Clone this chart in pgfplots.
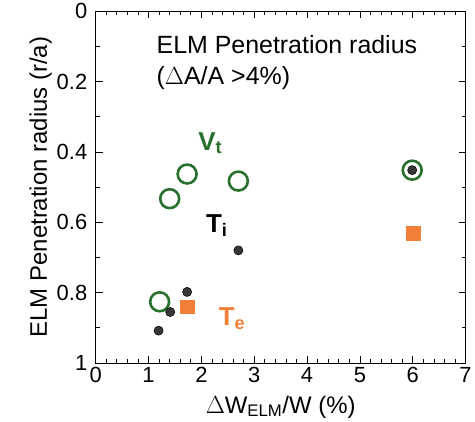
\documentclass[border=0pt]{standalone}
\usepackage{fontspec}
\setmainfont{Liberation Sans}
\usepackage{pgfplots}
\pgfplotsset{compat=1.18}
\usetikzlibrary{calc}
\definecolor{vgreen}{RGB}{40,112,45}
\definecolor{teor}{RGB}{240,128,55}
\definecolor{tigray}{RGB}{55,55,55}
\begin{document}
\begin{tikzpicture}
\begin{axis}[
  scale only axis, width=371pt, height=353pt,
  xmin=0, xmax=7, ymin=0, ymax=1, y dir=reverse,
  xtick={0,1,...,7}, ytick={0,0.2,0.4,0.6,0.8,1},
  yticklabels={0,0.2,0.4,0.6,0.8,1},
  minor x tick num=4, minor y tick num=1,
  tick align=inside, major tick length=7pt, minor tick length=4pt,
  xtick pos=both, ytick pos=both,
  /pgf/number format/assume math mode=true,
  tick label style={font=\fontsize{22}{24}\selectfont},
  xticklabel style={yshift=-1pt},
  yticklabel style={xshift=-5pt},
  label style={font=\fontsize{24}{26}\selectfont},
  xlabel={$\Delta$W\textsubscript{ELM}/W (\%)},
  ylabel={ELM Penetration radius (r/a)},
  xlabel style={yshift=-6pt},
  ylabel style={yshift=-2pt},
  axis line style={line width=1pt},
  every tick/.style={black, line width=0.7pt},
  clip=false,
]
\coordinate (sw) at (rel axis cs:0,1);
\coordinate (ne) at (rel axis cs:1,0);
% Vt open circles
\addplot[only marks, mark=o, mark size=9.5pt, mark options={draw=vgreen, line width=2.6pt}]
  coordinates {(1.21,0.826) (1.40,0.533) (1.73,0.463) (2.70,0.483) (5.99,0.452)};
% Ti dots
\addplot[only marks, mark=*, mark size=4.6pt, mark options={fill=tigray, draw=black, line width=0.5pt}]
  coordinates {(1.19,0.908) (1.41,0.855) (1.73,0.798) (2.70,0.680) (5.99,0.452)};
% Te squares
\addplot[only marks, mark=square*, mark size=7pt, mark options={fill=teor, draw=teor}]
  coordinates {(1.74,0.840) (6.00,0.630)};
\node[anchor=north west, align=left, font=\fontsize{25}{31}\selectfont, inner sep=0pt]
  at (axis cs:1.15,0.07) {ELM Penetration radius\\($\Delta$A/A >4\%)};
\node[font=\bfseries\fontsize{26}{28}\selectfont, text=vgreen] at (axis cs:2.17,0.375) {V\textsubscript{t}};
\node[font=\bfseries\fontsize{26}{28}\selectfont, text=black] at (axis cs:2.29,0.61) {T\textsubscript{i}};
\node[font=\bfseries\fontsize{26}{28}\selectfont, text=teor] at (axis cs:2.58,0.875) {T\textsubscript{e}};
\end{axis}
\path ($(sw)+(-96pt,-71pt)$) rectangle ($(ne)+(8pt,15pt)$);
\end{tikzpicture}
\end{document}
